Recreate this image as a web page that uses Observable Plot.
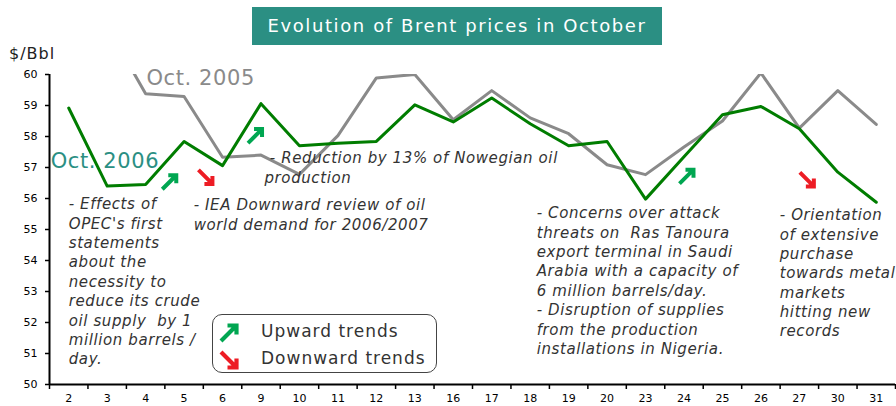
<!DOCTYPE html>
<html><head><meta charset="utf-8">
<script src="https://cdn.jsdelivr.net/npm/d3@7"></script>
<script src="https://cdn.jsdelivr.net/npm/@observablehq/plot@0.6"></script>
<style>
body{margin:0;background:#fff;}
#wrap{position:relative;width:896px;height:406px;font-family:"DejaVu Sans",sans-serif;}
#title{position:absolute;left:252px;top:7px;width:410px;height:38px;background:#2b8f83;color:#fff;font-size:18px;line-height:38px;text-align:center;letter-spacing:1.6px;}
#unit{position:absolute;left:9px;top:44px;font-size:16px;color:#222;letter-spacing:1px;}
#legend{position:absolute;left:212px;top:314px;width:223px;height:57px;border:1px solid #444;border-radius:10px;background:#fff;}
.lrow{position:absolute;left:0;height:26px;width:220px;font-size:17px;color:#333;letter-spacing:1px;}
.lrow svg{position:absolute;left:6px;top:4px;}
.lrow span{position:absolute;left:48px;top:2px;}
#chart{position:absolute;left:0;top:0;}
</style>
</head><body>
<div id="wrap">
<div id="chart"></div>
<div id="title">Evolution of Brent prices in October</div>
<div id="unit">$/Bbl</div>
<div id="legend">
 <div class="lrow" style="top:4px"><svg width="20" height="20" viewBox="-10 -10 20 20"><path d="M-8,8L5.5,-5.5M-1.5,-7.5L7.5,-7.5L7.5,1.5" fill="none" stroke="#00a651" stroke-width="4.2" stroke-linejoin="miter"/></svg><span>Upward trends</span></div>
 <div class="lrow" style="top:31px"><svg width="20" height="20" viewBox="-10 -10 20 20"><path d="M-8,-8L5.5,5.5M7.5,-1.5L7.5,7.5L-1.5,7.5" fill="none" stroke="#ed1c24" stroke-width="4.2" stroke-linejoin="miter"/></svg><span>Downward trends</span></div>
</div>
</div>
<script>
// ---- data ----
const days = ["2","3","4","5","6","9","10","11","12","13","16","17","18","19","20","23","24","25","26","27","30","31"];
const brent2006 = [58.92,56.40,56.45,57.84,57.06,59.06,57.70,57.78,57.84,59.02,58.47,59.24,58.41,57.70,57.84,55.98,57.35,58.70,58.97,58.25,56.85,55.88];
const brent2005 = [null,61.55,59.38,59.29,57.33,57.40,56.78,58.03,59.89,60.00,58.54,59.48,58.60,58.09,57.09,56.77,57.66,58.50,60.05,58.27,59.48,58.39];
const yTicks = [50,51,52,53,54,55,56,57,58,59,60];

// annotations (x in day-index units, y in $/Bbl)
const notes = [
  "- Effects of\nOPEC's first\nstatements\nabout the\nnecessity to\nreduce its crude\noil supply  by 1\nmillion barrels /\nday.",
  "- IEA Downward review of oil\nworld demand for 2006/2007",
  "\u00a0- Reduction by 13% of Nowegian oil\nproduction",
  "- Concerns over attack\nthreats on  Ras Tanoura\nexport terminal in Saudi\nArabia with a capacity of\n6 million barrels/day.\n- Disruption of supplies\nfrom the production\ninstallations in Nigeria.",
  "- Orientation\nof extensive\npurchase\ntowards metal\nmarkets\nhitting new\nrecords"
];
const noteX = [0.0, 3.25, 5.09, 12.17, 18.49];
const noteY = [56.09, 56.06, 57.58, 55.8, 55.74];

const upX = [2.62, 4.85, 16.07];
const upY = [56.53, 58.02, 56.71];
const downX = [3.56, 19.20];
const downY = [56.69, 56.61];

const seriesLabels = ["Oct. 2005", "Oct. 2006"];
const seriesLabelX = [2.02, -0.47];
const seriesLabelY = [59.65, 57.0];
const seriesLabelColor = ["#8a8a8a", "#2b8f83"];

// ---- build ----
const rows = days.map((d, i) => ({i, day: d, v2006: brent2006[i], v2005: brent2005[i]}));
const noteRows = notes.map((t, k) => ({t, x: noteX[k], y: noteY[k]}));
const ups = upX.map((x, k) => ({x, y: upY[k]}));
const downs = downX.map((x, k) => ({x, y: downY[k]}));
const labelRows = seriesLabels.map((t, k) => ({t, x: seriesLabelX[k], y: seriesLabelY[k], c: seriesLabelColor[k]}));

const arrowUp = {draw(ctx, size) {
  const r = Math.sqrt(size / Math.PI);
  ctx.moveTo(-0.9*r, 0.9*r); ctx.lineTo(0.6*r, -0.6*r);
  ctx.moveTo(-0.15*r, -0.85*r); ctx.lineTo(0.85*r, -0.85*r); ctx.lineTo(0.85*r, 0.15*r);
}};
const arrowDown = {draw(ctx, size) {
  const r = Math.sqrt(size / Math.PI);
  ctx.moveTo(-0.9*r, -0.9*r); ctx.lineTo(0.6*r, 0.6*r);
  ctx.moveTo(0.85*r, -0.15*r); ctx.lineTo(0.85*r, 0.85*r); ctx.lineTo(-0.15*r, 0.85*r);
}};

const boundaries = d3.range(days.length + 1).map(i => i - 0.5);

const chart = Plot.plot({
  width: 896,
  height: 406,
  marginLeft: 49,
  marginRight: 1,
  marginTop: 74,
  marginBottom: 22,
  style: {fontFamily: "DejaVu Sans, sans-serif", background: "transparent"},
  x: {type: "linear", domain: [-0.5, days.length - 0.5]},
  y: {domain: [50, 60]},
  marks: [
    Plot.line(rows, {x: "i", y: "v2005", stroke: "#8a8a8a", strokeWidth: 3, clip: true}),
    Plot.line(rows, {x: "i", y: "v2006", stroke: "#007d00", strokeWidth: 3}),
    Plot.text(noteRows, {x: "x", y: "y", text: "t", textAnchor: "start", lineAnchor: "top", fontSize: 15, fontStyle: "italic", fill: "#333", lineHeight: 1.29}),
    Plot.text(labelRows, {x: "x", y: "y", text: "t", fill: "c", textAnchor: "start", lineAnchor: "bottom", fontSize: 21}),
    Plot.dot(ups, {x: "x", y: "y", symbol: arrowUp, r: 8, fill: "none", stroke: "#00a651", strokeWidth: 4, strokeLinejoin: "miter"}),
    Plot.dot(downs, {x: "x", y: "y", symbol: arrowDown, r: 8, fill: "none", stroke: "#ed1c24", strokeWidth: 4, strokeLinejoin: "miter"}),
    Plot.axisY({ticks: yTicks, tickSize: 4, tickPadding: 8, fontSize: 11, label: null, tickFormat: d => String(d), color: "#000", strokeWidth: 1.5}),
    Plot.axisX({ticks: boundaries, tickSize: 5, tickFormat: () => "", label: null, strokeWidth: 1.5, color: "#000"}),
    Plot.axisX({ticks: d3.range(days.length), tickSize: 0, tickPadding: 10, fontSize: 11, tickFormat: i => days[i], label: null, color: "#000"}),
    Plot.ruleX([-0.5], {y1: 50, y2: 60, stroke: "#000", strokeWidth: 2}),
    Plot.ruleY([50], {stroke: "#000", strokeWidth: 2})
  ]
});
const textGroups = chart.querySelectorAll('g[aria-label="text"]');
if (textGroups[0]) textGroups[0].setAttribute("letter-spacing", "0.6");
if (textGroups[1]) textGroups[1].setAttribute("letter-spacing", "0.6");
document.getElementById("chart").appendChild(chart);
</script>
</body></html>
